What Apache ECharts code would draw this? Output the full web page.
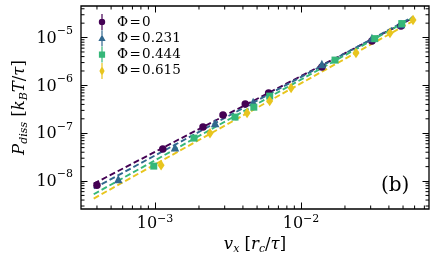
<!DOCTYPE html>
<html><head><meta charset="utf-8">
<script src="https://cdn.jsdelivr.net/npm/echarts@6/dist/echarts.min.js"></script>
<style>html,body{margin:0;padding:0;background:#fff}#c{width:436px;height:266px}</style>
</head><body><div id="c"></div>
<script>
// ---- data ----
const seriesNames = ['Φ\u200a=\u200a0', 'Φ\u200a=\u200a0.231', 'Φ\u200a=\u200a0.444', 'Φ\u200a=\u200a0.615'];
const vPhi0   = [4.0e-4, 1.13e-3, 2.13e-3, 2.92e-3, 4.15e-3, 6.0e-3, 1.39e-2, 3.06e-2, 4.84e-2];
const pPhi0   = [8.2e-9, 4.65e-8, 1.34e-7, 2.39e-7, 4.07e-7, 6.9e-7, 2.42e-6, 8.45e-6, 1.74e-5];
const ePhi0   = [0.9e-9, 4e-9, 1.2e-8, 2.2e-8, 3.5e-8, 6e-8, 2.0e-7, 7e-7, 1.4e-6];
const vPhi231 = [5.6e-4, 1.37e-3, 2.58e-3, 4.7e-3, 1.39e-2, 3.06e-2, 4.84e-2];
const pPhi231 = [1.1e-8, 5.1e-8, 1.63e-7, 4.5e-7, 2.79e-6, 9.8e-6, 1.91e-5];
const ePhi231 = [1.1e-9, 4.5e-9, 1.5e-8, 4e-8, 2.3e-7, 8e-7, 1.5e-6];
const vPhi444 = [9.8e-4, 1.85e-3, 3.53e-3, 4.75e-3, 6.1e-3, 1.71e-2, 3.2e-2, 4.9e-2];
const pPhi444 = [2.05e-8, 7.9e-8, 2.17e-7, 3.5e-7, 5.97e-7, 3.38e-6, 9.5e-6, 1.96e-5];
const ePhi444 = [2e-9, 7e-9, 2e-8, 3e-8, 5e-8, 2.8e-7, 8e-7, 1.6e-6];
const vPhi615 = [1.1e-3, 2.38e-3, 4.27e-3, 6.1e-3, 8.55e-3, 2.38e-2, 4.07e-2, 5.85e-2];
const pPhi615 = [2.15e-8, 1.0e-7, 2.64e-7, 4.7e-7, 8.8e-7, 4.74e-6, 1.24e-5, 2.32e-5];
const ePhi615 = [2.2e-9, 9e-9, 2.4e-8, 4e-8, 8e-8, 4e-7, 1.0e-6, 1.9e-6];
// fitted power-law lines, endpoints
const fitV      = [3.8e-4, 5.9e-2];
const fitPhi0   = [8.8e-9, 2.6e-5];
const fitPhi231 = [7.0e-9, 2.75e-5];
const fitPhi444 = [5.3e-9, 2.65e-5];
const fitPhi615 = [4.3e-9, 2.25e-5];
// axes
const xRange = [3.11e-4, 7.53e-2];
const yRange = [2.6e-9, 4.57e-5];
const xMajorTicks = [1e-3, 1e-2];
const yMajorTicks = [1e-8, 1e-7, 1e-6, 1e-5];
const xTickLabels = ['10{s|−3}', '10{s|−2}'];
const yTickBase = '10';
const yTickExps = ['−8', '−7', '−6', '−5'];

const colors = ['#440154', '#31688e', '#35b779', '#e8c51e'];
const L = Math.log10;
const V = [vPhi0, vPhi231, vPhi444, vPhi615];
const P = [pPhi0, pPhi231, pPhi444, pPhi615];
const E = [ePhi0, ePhi231, ePhi444, ePhi615];
const F = [fitPhi0, fitPhi231, fitPhi444, fitPhi615];

function minors(r) {
  const out = [];
  for (let n = Math.floor(L(r[0])) - 1; n <= Math.ceil(L(r[1])); n++)
    for (let k = 2; k <= 9; k++) {
      const v = k * Math.pow(10, n);
      if (v > r[0] && v < r[1]) out.push(L(v));
    }
  return out;
}
const xMaj = xMajorTicks.map(L), yMaj = yMajorTicks.map(L);
const xMin = minors(xRange), yMin = minors(yRange);
const fontF = 'DejaVu Serif';
const TICK_FS = 16, SUP_FS = 11;
const GRID_LEFT = 81;
const rich = {
  s: { fontSize: SUP_FS, fontFamily: fontF, color: '#000', verticalAlign: 'top', padding: [0, 0, 8, 0] }
};
const mctx = document.createElement('canvas').getContext('2d');
mctx.font = TICK_FS + 'px "DejaVu Serif"';
const baseW = mctx.measureText(yTickBase).width;
mctx.font = SUP_FS + 'px "DejaVu Serif"';
const supW = yTickExps.map(t => mctx.measureText(t).width);

function labFmt(vals, labs) {
  return function (v) {
    for (let i = 0; i < vals.length; i++) if (Math.abs(v - vals[i]) < 1e-6) return labs[i];
    return '';
  };
}
const tickLine = { color: '#000', width: 1 };
const MAJ = 6.5, MIN = 3.5;
function xAx(pos, labels) {
  return {
    type: 'value', position: pos, min: L(xRange[0]), max: L(xRange[1]),
    axisLine: { show: false }, splitLine: { show: false },
    axisTick: { show: true, inside: true, length: MAJ, customValues: xMaj, lineStyle: tickLine },
    axisLabel: labels ? { show: true, customValues: xMaj, formatter: labFmt(xMaj, xTickLabels), fontFamily: fontF, fontSize: TICK_FS, color: '#000', margin: 5, rich: rich } : { show: false }
  };
}
function yAx(pos) {
  return {
    type: 'value', position: pos, min: L(yRange[0]), max: L(yRange[1]),
    axisLine: { show: false }, splitLine: { show: false },
    axisTick: { show: true, inside: true, length: MAJ, customValues: yMaj, lineStyle: tickLine },
    axisLabel: { show: false }
  };
}
const xAxes = [xAx('bottom', true), xAx('top', false)];
const yAxes = [yAx('left'), yAx('right')];
const nameRich = {
  i: { fontFamily: fontF, fontStyle: 'italic', fontSize: 16.5, color: '#000' },
  n: { fontFamily: fontF, fontSize: 16.5, color: '#000' },
  b: { fontFamily: fontF, fontStyle: 'italic', fontSize: 11, color: '#000', verticalAlign: 'bottom', padding: [9, 0, 0, 0] }
};
xAxes[0].name = '{i|v}{b|x}{n| [}{i|r}{b|c}{n|/}{i|τ}{n|]}';
xAxes[0].nameLocation = 'middle'; xAxes[0].nameGap = 26; xAxes[0].nameTextStyle = { rich: nameRich };
yAxes[0].name = '{i|P}{b|diss}{n| [}{i|k}{b|B}{i|T}{n|/}{i|τ}{n|]}';
yAxes[0].nameLocation = 'middle'; yAxes[0].nameGap = 51; yAxes[0].nameRotate = 90; yAxes[0].nameTextStyle = { rich: nameRich };

const symbols = ['circle', 'triangle', 'rect', 'path://M0,-10L6,0L0,10L-6,0Z'];
const sizes = [7.5, 8.5, 7, [7, 10.5]];
const legendIcons = [
  'path://M0,0h0.01v0.01zM10,16h-0.01v-0.01zM4.4,0H5.6V16H4.4ZM8.2,8A3.2,3.2 0 1,1 1.8,8A3.2,3.2 0 1,1 8.2,8Z',
  'path://M0,0h0.01v0.01zM10,16h-0.01v-0.01zM4.4,0H5.6V16H4.4ZM5,4.2L8.6,10.6L1.4,10.6Z',
  'path://M0,0h0.01v0.01zM10,16h-0.01v-0.01zM4.4,0H5.6V16H4.4ZM1.9,4.9H8.1V11.1H1.9Z',
  'path://M0,0h0.01v0.01zM10,16h-0.01v-0.01zM4.4,0H5.6V16H4.4ZM5,3L7.6,8L5,13L2.4,8Z'
];

const series = [];
series.push({
  name: 'xminor', type: 'custom', silent: true, z: 10,
  data: xMin.map(v => [v, L(yRange[0])]),
  renderItem: function (params, api) {
    const cs = params.coordSys;
    const p = api.coord([api.value(0), api.value(1)]);
    const st = { stroke: '#000', lineWidth: 1 };
    return { type: 'group', children: [
      { type: 'line', shape: { x1: p[0], y1: cs.y + cs.height, x2: p[0], y2: cs.y + cs.height - MIN }, style: st },
      { type: 'line', shape: { x1: p[0], y1: cs.y, x2: p[0], y2: cs.y + MIN }, style: st }
    ] };
  }
});
series.push({
  name: 'yminor', type: 'custom', silent: true, z: 10,
  data: yMin.map(v => [L(xRange[0]), v]),
  renderItem: function (params, api) {
    const cs = params.coordSys;
    const p = api.coord([api.value(0), api.value(1)]);
    const st = { stroke: '#000', lineWidth: 1 };
    return { type: 'group', children: [
      { type: 'line', shape: { x1: cs.x, y1: p[1], x2: cs.x + MIN, y2: p[1] }, style: st },
      { type: 'line', shape: { x1: cs.x + cs.width, y1: p[1], x2: cs.x + cs.width - MIN, y2: p[1] }, style: st }
    ] };
  }
});
for (let s = 0; s < 4; s++) {
  series.push({
    name: 'fit' + s, type: 'line', z: 2, symbol: 'none', silent: true,
    data: fitV.map((v, i) => [L(v), L(F[s][i])]),
    lineStyle: { color: colors[s], width: 1.9, type: [6, 3] }
  });
}
for (let s = 0; s < 4; s++) {
  series.push({
    name: 'err' + s, type: 'custom', z: 3, silent: true,
    data: V[s].map((v, i) => [L(v), L(P[s][i] - E[s][i]), L(P[s][i] + E[s][i])]),
    renderItem: function (params, api) {
      const a = api.coord([api.value(0), api.value(1)]);
      const b = api.coord([api.value(0), api.value(2)]);
      return { type: 'line', shape: { x1: a[0], y1: a[1], x2: b[0], y2: b[1] }, style: { stroke: colors[s], lineWidth: 1.2 } };
    }
  });
  series.push({
    name: seriesNames[s], type: 'scatter', z: 4, symbol: symbols[s], symbolSize: sizes[s],
    itemStyle: { color: colors[s], opacity: 1 },
    data: V[s].map((v, i) => [L(v), L(P[s][i])])
  });
}

const chart = echarts.init(document.getElementById('c'), null, { renderer: 'canvas' });
chart.setOption({
  animation: false,
  backgroundColor: '#fff',
  grid: { left: GRID_LEFT, right: 7, top: 6, bottom: 57, show: true, borderColor: '#000', borderWidth: 1.3, backgroundColor: 'transparent' },
  xAxis: xAxes,
  yAxis: yAxes,
  legend: {
    orient: 'vertical', left: 97, top: 14, padding: 0, itemWidth: 10, itemHeight: 16, itemGap: 0.3,
    data: seriesNames.map((n, i) => ({ name: n, icon: legendIcons[i] })),
    textStyle: { fontFamily: fontF, fontSize: 13.5, color: '#000', padding: [0, 0, 0, 5] }
  },
  series: series
});
// y tick labels positioned through the y scale
const gfx = [{ type: 'text', left: 381, top: 176, style: { text: '(b)', fontFamily: fontF, fontSize: 20, fill: '#000' } }];
yMaj.forEach((v, i) => {
  const py = chart.convertToPixel({ yAxisIndex: 0 }, v);
  const xe = GRID_LEFT - 8;
  const xs = xe - supW[i] - baseW;
  gfx.push({ type: 'text', x: xs, y: py - TICK_FS * 0.5 + 1, style: { text: yTickBase, fontFamily: fontF, fontSize: TICK_FS, fill: '#000' } });
  gfx.push({ type: 'text', x: xs + baseW, y: py - TICK_FS * 0.5 - 4, style: { text: yTickExps[i], fontFamily: fontF, fontSize: SUP_FS, fill: '#000' } });
});
chart.setOption({ graphic: gfx });
</script></body></html>
